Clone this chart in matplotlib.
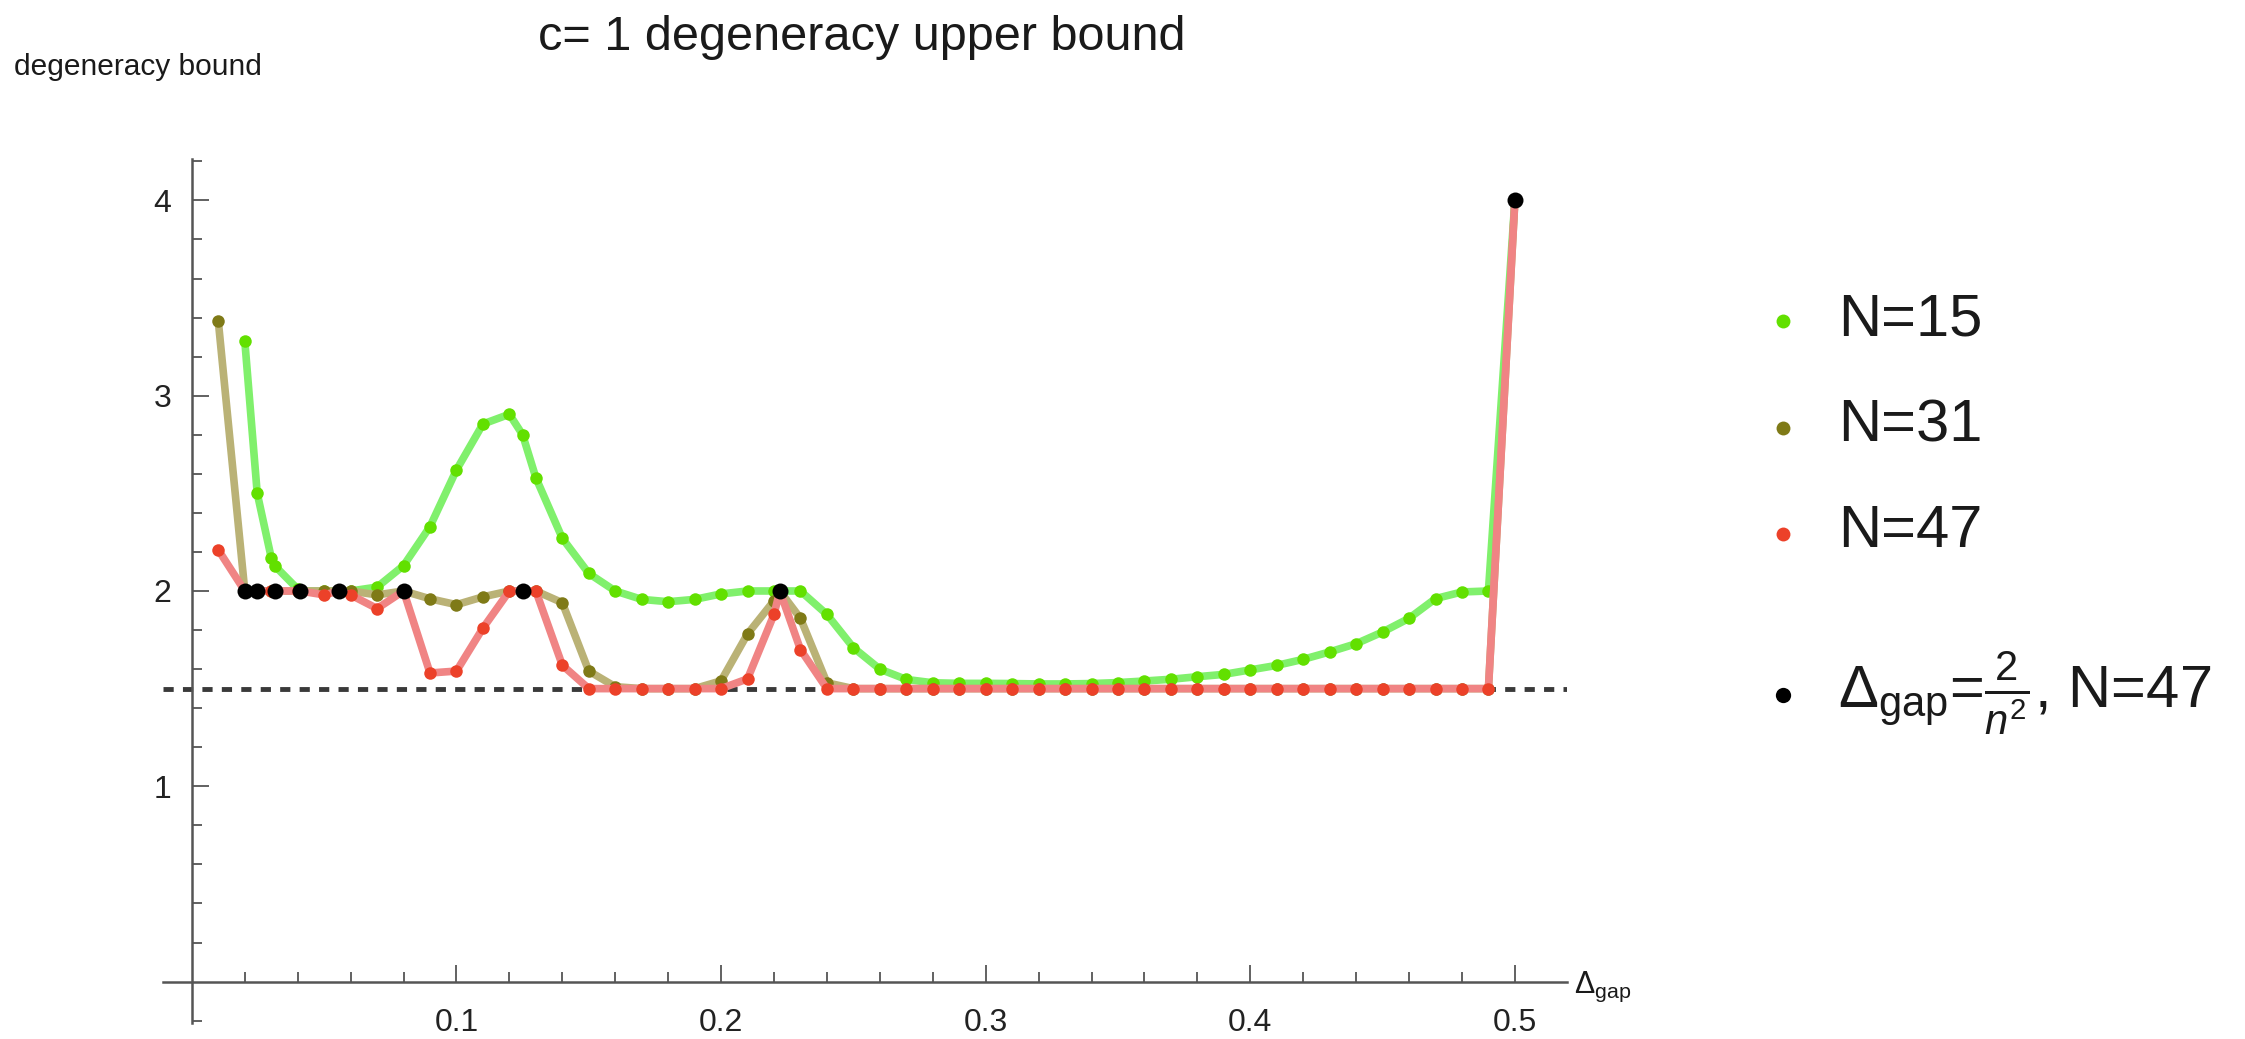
import matplotlib
matplotlib.use('Agg')
import matplotlib.pyplot as plt
from matplotlib.lines import Line2D
from matplotlib.ticker import FixedLocator

plt.rcParams['font.family'] = ['Liberation Sans', 'DejaVu Sans']
plt.rcParams['mathtext.fontset'] = 'custom'
plt.rcParams['mathtext.rm'] = 'Liberation Sans'
plt.rcParams['mathtext.it'] = 'Liberation Sans:italic'
plt.rcParams['mathtext.bf'] = 'Liberation Sans:bold'

# gap values (0.01 grid plus the 2/n^2 points)
x_grid = [0.01, 0.02, 0.0247, 0.03, 0.03125, 0.04, 0.0408, 0.05, 0.0556, 0.06,
          0.07, 0.08, 0.09, 0.10, 0.11, 0.12, 0.125, 0.13, 0.14, 0.15,
          0.16, 0.17, 0.18, 0.19, 0.20, 0.21, 0.22, 0.2222, 0.23, 0.24,
          0.25, 0.26, 0.27, 0.28, 0.29, 0.30, 0.31, 0.32, 0.33, 0.34,
          0.35, 0.36, 0.37, 0.38, 0.39, 0.40, 0.41, 0.42, 0.43, 0.44,
          0.45, 0.46, 0.47, 0.48, 0.49, 0.50]

# N=15 starts at 0.02
x_n15 = x_grid[1:]
y_n15 = [3.28, 2.50, 2.17, 2.13, 2.01, 2.00, 2.00, 2.00, 2.00,
         2.02, 2.13, 2.33, 2.62, 2.855, 2.905, 2.80, 2.58, 2.27, 2.09,
         2.00, 1.957, 1.945, 1.957, 1.985, 2.00, 2.00, 2.00, 2.00, 1.88,
         1.71, 1.60, 1.547, 1.53, 1.527, 1.527, 1.526, 1.524, 1.524, 1.526,
         1.531, 1.539, 1.548, 1.561, 1.573, 1.596, 1.619, 1.650, 1.688, 1.730,
         1.790, 1.860, 1.961, 1.995, 2.00, 4.00]

x_n31 = x_grid
y_n31 = [3.38, 2.00, 2.00, 2.00, 2.00, 2.00, 2.00, 2.00, 2.00, 2.00,
         1.98, 2.00, 1.96, 1.93, 1.97, 2.00, 2.00, 2.00, 1.94, 1.59,
         1.51, 1.50, 1.50, 1.50, 1.54, 1.78, 1.95, 2.00, 1.86, 1.53,
         1.50, 1.50, 1.50, 1.50, 1.50, 1.50, 1.50, 1.50, 1.50, 1.50,
         1.50, 1.50, 1.50, 1.50, 1.50, 1.50, 1.50, 1.50, 1.50, 1.50,
         1.50, 1.50, 1.50, 1.50, 1.50, 4.00]

x_n47 = x_grid
y_n47 = [2.21, 2.00, 2.00, 2.00, 2.00, 2.00, 2.00, 1.98, 2.00, 1.98,
         1.91, 2.00, 1.58, 1.59, 1.81, 2.00, 2.00, 2.00, 1.62, 1.50,
         1.50, 1.50, 1.50, 1.50, 1.50, 1.55, 1.88, 2.00, 1.70, 1.50,
         1.50, 1.50, 1.50, 1.50, 1.50, 1.50, 1.50, 1.50, 1.50, 1.50,
         1.50, 1.50, 1.50, 1.50, 1.50, 1.50, 1.50, 1.50, 1.50, 1.50,
         1.50, 1.50, 1.50, 1.50, 1.50, 4.00]

# points at gap = 2/n^2, N=47
x_special = [0.02, 0.0247, 0.03125, 0.0408, 0.0556, 0.08, 0.125, 0.2222, 0.50]
y_special = [2, 2, 2, 2, 2, 2, 2, 2, 4]

bound_line = 1.5

legend_labels = ['N=15', 'N=31', 'N=47', r'$\Delta_{\mathrm{gap}}$=$\frac{2}{n^2}$, N=47']

fig = plt.figure(figsize=(22.45, 10.39), dpi=100)
ax = fig.add_axes([0.0725, 0.0158, 0.6255, 0.8308])
ax.patch.set_alpha(0)

ax.axhline(bound_line, color='#3a3a3a', lw=3.5, ls=(0, (2.1, 1.9)), zorder=1)

series = [(x_n15, y_n15, '#80f06c', '#62e000'),
          (x_n31, y_n31, '#bab276', '#7f7a17'),
          (x_n47, y_n47, '#f08484', '#ec4129')]
for i, (xs, ys, lc, pc) in enumerate(series):
    ax.plot(xs, ys, color=lc, lw=5.5, solid_joinstyle='round', zorder=2 + i)
    ax.plot(xs, ys, 'o', color=pc, ms=9, mew=0, zorder=2.5 + i)

ax.plot(x_special, y_special, 'o', color='black', ms=11.5, mew=0, zorder=6, clip_on=False)

ax.set_xlim(-0.011, 0.5197)
ax.set_ylim(-0.21, 4.21)

for s in ['top', 'right']:
    ax.spines[s].set_visible(False)
ax.spines['left'].set_position(('data', 0))
ax.spines['bottom'].set_position(('data', 0))
for s in ['left', 'bottom']:
    ax.spines[s].set_color('#555555')
    ax.spines[s].set_linewidth(1.8)

ax.xaxis.set_major_locator(FixedLocator([0.1, 0.2, 0.3, 0.4, 0.5]))
ax.xaxis.set_minor_locator(FixedLocator([0.02, 0.04, 0.06, 0.08, 0.12, 0.14, 0.16, 0.18,
                                         0.22, 0.24, 0.26, 0.28, 0.32, 0.34, 0.36, 0.38,
                                         0.42, 0.44, 0.46, 0.48, 0.52]))
ax.set_xticklabels(['0.1', '0.2', '0.3', '0.4', '0.5'])
ax.yaxis.set_major_locator(FixedLocator([1, 2, 3, 4]))
ax.yaxis.set_minor_locator(FixedLocator([-0.2, 0.2, 0.4, 0.6, 0.8, 1.2, 1.4, 1.6, 1.8,
                                         2.2, 2.4, 2.6, 2.8, 3.2, 3.4, 3.6, 3.8, 4.2]))
ax.set_yticklabels(['1', '2', '3', '4'])

ax.tick_params(which='both', direction='in', color='#555555', width=1.3,
               labelsize=23, labelcolor='#222222')
ax.tick_params(which='major', length=12)
ax.tick_params(which='minor', length=7)
ax.tick_params(axis='x', which='major', pad=19)
ax.tick_params(axis='y', which='major', pad=15)

fig.text(862 / 2245, 1 - 38 / 1039, 'c= 1 degeneracy upper bound', fontsize=35,
         ha='center', va='center', color='#1a1a1a')
fig.text(14 / 2245, 1 - 67 / 1039, 'degeneracy bound', fontsize=21.5,
         ha='left', va='center', color='#1a1a1a')
fig.text(1574 / 2245, 1 - 993 / 1039, r'$\Delta_{\mathrm{gap}}$', fontsize=22,
         ha='left', va='baseline', color='#1a1a1a')

# legend drawn by hand
marker_colors = ['#62e000', '#7f7a17', '#ec4129', 'black']
marker_y = [321, 428, 534, 695]
text_base = [335, 441, 547, 708]
for lab, mc, my, tb in zip(legend_labels, marker_colors, marker_y, text_base):
    fig.add_artist(Line2D([1783 / 2245], [1 - my / 1039], marker='o', color=mc,
                          ms=10 if mc != 'black' else 11, mew=0, ls='none',
                          transform=fig.transFigure))
    fig.text(1838 / 2245, 1 - tb / 1039, lab, fontsize=43, ha='left', va='baseline',
             color='#1a1a1a')

fig.savefig('out.png', dpi=100)
